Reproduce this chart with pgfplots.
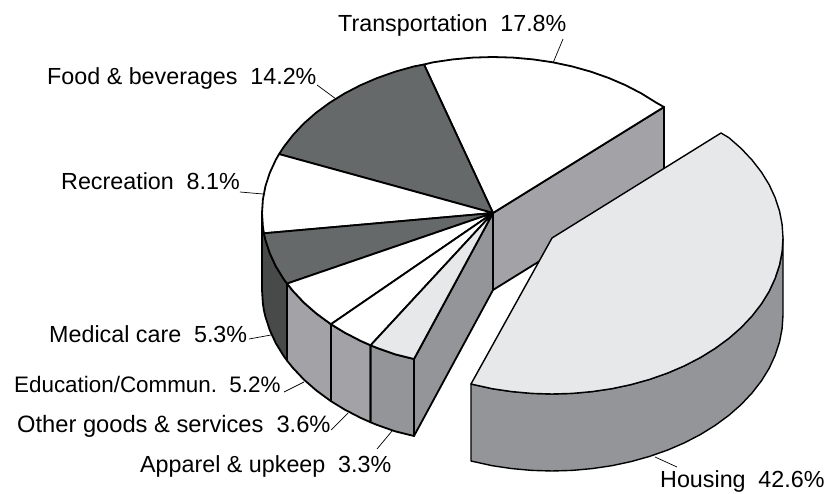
\documentclass[border=0pt]{standalone}
\usepackage{fontspec}
\setmainfont{Liberation Sans}
\usepackage{pgfplots}
\pgfplotsset{compat=1.18}
\definecolor{topdark}{RGB}{101,105,105}
\definecolor{toplight}{RGB}{231,232,234}
\definecolor{sidedark}{RGB}{72,74,74}
\definecolor{sidemid}{RGB}{163,162,166}
\definecolor{sidegrey}{RGB}{148,149,153}
\pgfplotsset{
  face/.style={draw=black, line width=1.8pt, line join=round},
  edge/.style={draw=black, line width=1.4pt, line join=round},
  lead/.style={draw=black, line width=0.7pt},
}
\newcommand{\lab}[4][23.3]{\node[anchor=base west, inner sep=0pt, font=\fontsize{#1}{24}\selectfont] at (axis cs:#2,#3) {#4};}
\begin{document}
\begin{tikzpicture}
\begin{axis}[
    scale only axis, width=838pt, height=494pt,
    xmin=0, xmax=838, ymin=0, ymax=494,
    y dir=reverse, hide axis, clip=false,
]
\path (axis cs:0,0) rectangle (axis cs:838,494);

% cut faces
\addplot[face, fill=sidemid] coordinates {(493,213)(664,107)(664,184)(493,290)} -- cycle;
\addplot[face, fill=sidegrey] coordinates {(493,213)(414,359)(414,436)(493,290)} -- cycle;

% outer side faces
\addplot[face, fill=sidedark] coordinates {(262,213)(262.9,226.6)(263.9,233.3)(265.5,240.1)(269.9,253.4)(275.9,266.4)(283.6,278.9)(287,283.6)(287,360.6)(283.6,355.9)(275.9,343.4)(269.9,330.4)(265.5,317.1)(263.9,310.3)(262.9,303.6)(262,290)} -- cycle;
\addplot[face, fill=sidemid] coordinates {(287,283.6)(293,291)(303.8,302.5)(316.1,313.3)(329.7,323.3)(331,324.2)(331,401.2)(329.7,400.3)(316.1,390.3)(303.8,379.5)(293,368)(287,360.6)} -- cycle;
\addplot[face, fill=sidemid] coordinates {(331,324.2)(344.5,332.5)(360.5,340.8)(370.6,345.3)(370.6,422.3)(360.5,417.8)(344.5,409.5)(331,401.2)} -- cycle;
\addplot[face, fill=sidegrey] coordinates {(370.6,345.3)(377.5,348.1)(395.4,354.4)(414,359)(414,436)(395.4,431.4)(377.5,425.1)(370.6,422.3)} -- cycle;

% top faces
\addplot[face, fill=white] coordinates {(493,213)(664,107)(656.3,102.7)(641.5,93.5)(625.5,85.2)(608.5,77.9)(590.6,71.6)(572,66.4)(552.8,62.3)(533.1,59.4)(513.1,57.6)(493,57)(472.9,57.6)(452.9,59.4)(433.2,62.3)(424,64.5)} -- cycle;
\addplot[face, fill=topdark] coordinates {(493,213)(424,64.5)(414,66.4)(395.4,71.6)(377.5,77.9)(360.5,85.2)(344.5,93.5)(329.7,102.7)(316.1,112.7)(303.8,123.5)(293,135)(283.6,147.1)(279.1,154.1)} -- cycle;
\addplot[face, fill=white] coordinates {(493,213)(279.1,154.1)(275.9,159.6)(269.9,172.6)(265.5,185.9)(262.9,199.4)(262,213)(262.9,226.6)(263.9,233.3)} -- cycle;
\addplot[face, fill=topdark] coordinates {(493,213)(263.9,233.3)(265.5,240.1)(269.9,253.4)(275.9,266.4)(283.6,278.9)(287,283.6)} -- cycle;
\addplot[face, fill=white] coordinates {(493,213)(287,283.6)(293,291)(303.8,302.5)(316.1,313.3)(329.7,323.3)(331,324.2)} -- cycle;
\addplot[face, fill=white] coordinates {(493,213)(331,324.2)(344.5,332.5)(360.5,340.8)(370.6,345.3)} -- cycle;
\addplot[face, fill=toplight] coordinates {(493,213)(370.6,345.3)(377.5,348.1)(395.4,354.4)(414,359)} -- cycle;

% exploded housing slice
\addplot[edge, fill=sidegrey] coordinates {(783,238)(782.1,251.6)(779.5,265.1)(775.1,278.4)(769.1,291.4)(761.4,303.9)(752,316)(741.2,327.5)(728.9,338.3)(715.3,348.3)(700.5,357.5)(684.5,365.8)(667.5,373.1)(649.6,379.4)(631,384.6)(611.8,388.7)(592.1,391.6)(572.1,393.4)(552,394)(531.9,393.4)(511.9,391.6)(492.2,388.7)(471,384)(471,461)(492.2,465.7)(511.9,468.6)(531.9,470.4)(552,471)(572.1,470.4)(592.1,468.6)(611.8,465.7)(631,461.6)(649.6,456.4)(667.5,450.1)(684.5,442.8)(700.5,434.5)(715.3,425.3)(728.9,415.3)(741.2,404.5)(752,393)(761.4,380.9)(769.1,368.4)(775.1,355.4)(779.5,342.1)(782.1,328.6)(783,315)} -- cycle;
\addplot[edge, fill=toplight] coordinates {(552,238)(721,133)(728.9,137.7)(741.2,148.5)(752,160)(761.4,172.1)(769.1,184.6)(775.1,197.6)(779.5,210.9)(782.1,224.4)(783,238)(782.1,251.6)(779.5,265.1)(775.1,278.4)(769.1,291.4)(761.4,303.9)(752,316)(741.2,327.5)(728.9,338.3)(715.3,348.3)(700.5,357.5)(684.5,365.8)(667.5,373.1)(649.6,379.4)(631,384.6)(611.8,388.7)(592.1,391.6)(572.1,393.4)(552,394)(531.9,393.4)(511.9,391.6)(492.2,388.7)(471,384)} -- cycle;

% leader lines
\addplot[lead] coordinates {(563,39)(553,63)};
\addplot[lead] coordinates {(317,85)(336,99)};
\addplot[lead] coordinates {(240,192)(263,194)};
\addplot[lead] coordinates {(249,339)(271,335)};
\addplot[lead] coordinates {(284,392)(304,382)};
\addplot[lead] coordinates {(331,430)(348,413)};
\addplot[lead] coordinates {(377,449)(392,431)};
\addplot[lead] coordinates {(655,457)(677,467)};

% labels
\lab{338}{32}{Transportation\hspace{0.55em}17.8\%}
\lab{47}{85}{Food \& beverages\hspace{0.55em}14.2\%}
\lab{61}{190}{Recreation\hspace{0.55em}8.1\%}
\lab{49}{342}{Medical care\hspace{0.55em}5.3\%}
\lab[22.4]{14}{392}{Education/Commun.\hspace{0.55em}5.2\%}
\lab[23.7]{17}{432}{Other goods \& services\hspace{0.55em}3.6\%}
\lab{140}{472}{Apparel \& upkeep\hspace{0.55em}3.3\%}
\lab{660}{487}{Housing\hspace{0.55em}42.6\%}
\end{axis}
\end{tikzpicture}
\end{document}
